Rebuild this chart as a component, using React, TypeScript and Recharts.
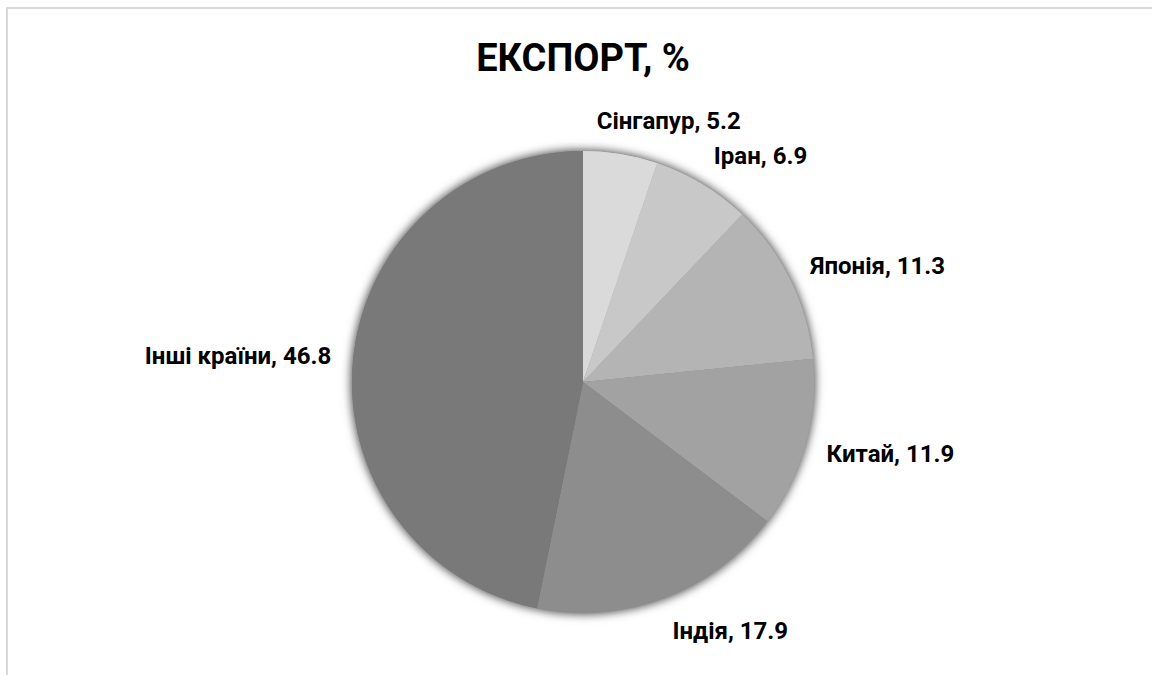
import React from 'react';
import { PieChart, Pie, Cell } from 'recharts';

const title = 'ЕКСПОРТ, %';
const categories = ['Сінгапур', 'Іран', 'Японія', 'Китай', 'Індія', 'Інші країни'];
const values = [5.2, 6.9, 11.3, 11.9, 17.9, 46.8];
const colors = ['#dadada', '#c8c8c8', '#b4b4b4', '#a2a2a2', '#8d8d8d', '#797979'];

const data = categories.map((name, i) => ({ name, value: values[i] }));

const RAD = Math.PI / 180;
const FONT = 'Roboto, "Noto Sans", "DejaVu Sans", sans-serif';
const LABEL_SIZE = 24;

const renderLabel = (props: any) => {
  const { cx, cy, midAngle, outerRadius, name, value } = props;
  const text = `${name}, ${Number(value).toFixed(1)}`;
  const r = outerRadius + 22;
  const c = Math.cos(-midAngle * RAD);
  const s = Math.sin(-midAngle * RAD);
  const estWidth = text.length * LABEL_SIZE * 0.47;
  const shift = -Math.sign(c) * estWidth * Math.max(0, 0.35 - Math.abs(c));
  const x = cx + r * c + shift;
  const y = cy + r * s + s * 12;
  return (
    <text
      x={x}
      y={y}
      dy="0.36em"
      textAnchor={c >= 0 ? 'start' : 'end'}
      fill="#000000"
      style={{ fontFamily: FONT, fontWeight: 700, fontSize: LABEL_SIZE }}
    >
      {text}
    </text>
  );
};

export default function App() {
  return (
    <div>
      <style>{`.pie-shadow { filter: drop-shadow(0px 0px 5px rgba(0,0,0,0.45)); }`}</style>
      <div
        style={{
          position: 'absolute',
          left: 6,
          top: 7,
          width: 1146,
          height: 668,
          borderTop: '2px solid #d9d9d9',
          borderLeft: '2px solid #d9d9d9',
          boxSizing: 'border-box',
          background: '#ffffff',
        }}
      />
      <div style={{ position: 'absolute', left: 0, top: 0, width: 1152, height: 675 }}>
        <PieChart width={1152} height={675} margin={{ top: 0, right: 0, bottom: 0, left: 0 }}>
          <Pie
            className="pie-shadow"
            data={data}
            dataKey="value"
            nameKey="name"
            cx={583}
            cy={382}
            outerRadius={231}
            startAngle={90}
            endAngle={-270}
            stroke="none"
            label={false}
            labelLine={false}
            isAnimationActive={false}
          >
            {data.map((d, i) => (
              <Cell key={d.name} fill={colors[i]} stroke="none" />
            ))}
          </Pie>
          <Pie
            data={data}
            dataKey="value"
            nameKey="name"
            cx={583}
            cy={382}
            outerRadius={231}
            startAngle={90}
            endAngle={-270}
            stroke="none"
            label={renderLabel}
            labelLine={false}
            isAnimationActive={false}
          >
            {data.map((d, i) => (
              <Cell key={d.name} fill={colors[i]} stroke="none" />
            ))}
          </Pie>
        </PieChart>
      </div>
      <svg
        width={1152}
        height={675}
        style={{ position: 'absolute', left: 0, top: 0, pointerEvents: 'none' }}
      >
        <text
          x={583}
          y={71}
          textAnchor="middle"
          fill="#000000"
          style={{ fontFamily: FONT, fontWeight: 700, fontSize: 38 }}
        >
          {title}
        </text>
      </svg>
    </div>
  );
}
